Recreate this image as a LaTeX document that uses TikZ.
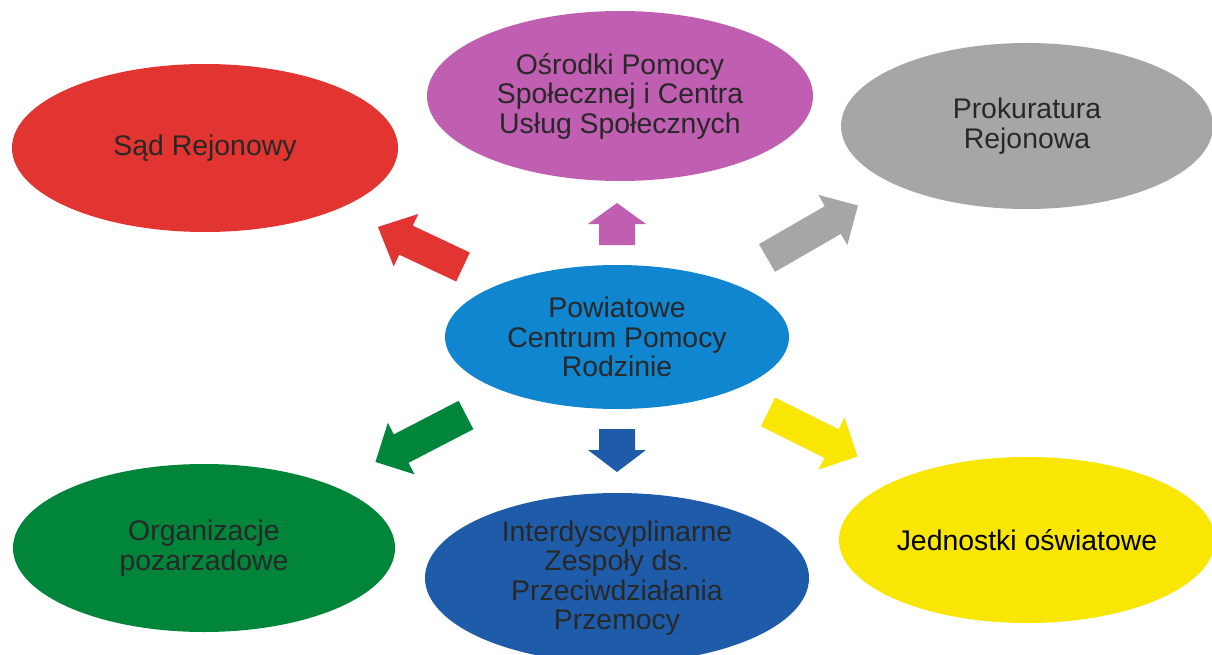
\documentclass[tikz,border=0pt]{standalone}
\usepackage{fontspec}
\setmainfont{Liberation Sans}
\usetikzlibrary{shapes.geometric}
\definecolor{cred}{RGB}{226,52,48}
\definecolor{cpurple}{RGB}{192,94,178}
\definecolor{cgray}{RGB}{166,166,166}
\definecolor{cblue}{RGB}{16,133,208}
\definecolor{cgreen}{RGB}{0,133,58}
\definecolor{cdblue}{RGB}{30,92,170}
\definecolor{cyellow}{RGB}{250,230,5}
\definecolor{ctext}{RGB}{40,40,40}
\newcommand{\blockarr}[6]{% color, tail, angle, length, head length, shaft half
  \fill[#1, shift={#2}, rotate=#3] (0,-#6) -- (#4-#5,-#6) -- (#4-#5,-29) -- (#4,0) -- (#4-#5,29) -- (#4-#5,#6) -- (0,#6) -- cycle;}
\begin{document}
\begin{tikzpicture}[x=1pt,y=-1pt,
  ell/.style={ellipse, inner sep=0pt, align=center, text=ctext,
    font=\fontsize{28.4}{29.5}\selectfont}]
\useasboundingbox (0,0) rectangle (1212,655);
\clip (0,0) rectangle (1212,655);
\fill[white] (0,0) rectangle (1212,655);
% ellipses
\node[ell, fill=cred, minimum width=386pt, minimum height=168pt] (sad) at (205,148) {Sąd Rejonowy};
\node[ell, fill=cpurple, minimum width=386pt, minimum height=170pt] (osr) at (620,96) {Ośrodki Pomocy\\Społecznej i Centra\\Usług Społecznych};
\node[ell, fill=cgray, minimum width=372pt, minimum height=166pt] (prok) at (1027,126) {Prokuratura\\Rejonowa};
\node[ell, fill=cblue, minimum width=344pt, minimum height=144pt] (pcpr) at (617,337) {Powiatowe\\Centrum Pomocy\\Rodzinie};
\node[ell, fill=cgreen, minimum width=382pt, minimum height=168pt] (org) at (204,548) {Organizacje\\pozarzadowe};
\node[ell, fill=cdblue, minimum width=384pt, minimum height=170pt] (inter) at (617,578) {Interdyscyplinarne\\Zespoły ds.\\Przeciwdziałania\\Przemocy};
\node[ell, fill=cyellow, minimum width=376pt, minimum height=166pt, text=black] (jed) at (1027,540) {Jednostki oświatowe};
% block arrows
\blockarr{cpurple}{(617,245)}{90}{42}{21}{18}
\blockarr{cdblue}{(617,429)}{-90}{43}{22}{18}
\blockarr{cred}{(463,267)}{154.8}{94}{31}{16}
\blockarr{cgray}{(767,258)}{30}{105}{29}{16}
\blockarr{cgreen}{(466,415)}{207.4}{102}{29}{16}
\blockarr{cyellow}{(768,412)}{-26.4}{100}{29}{16}
\end{tikzpicture}
\end{document}
